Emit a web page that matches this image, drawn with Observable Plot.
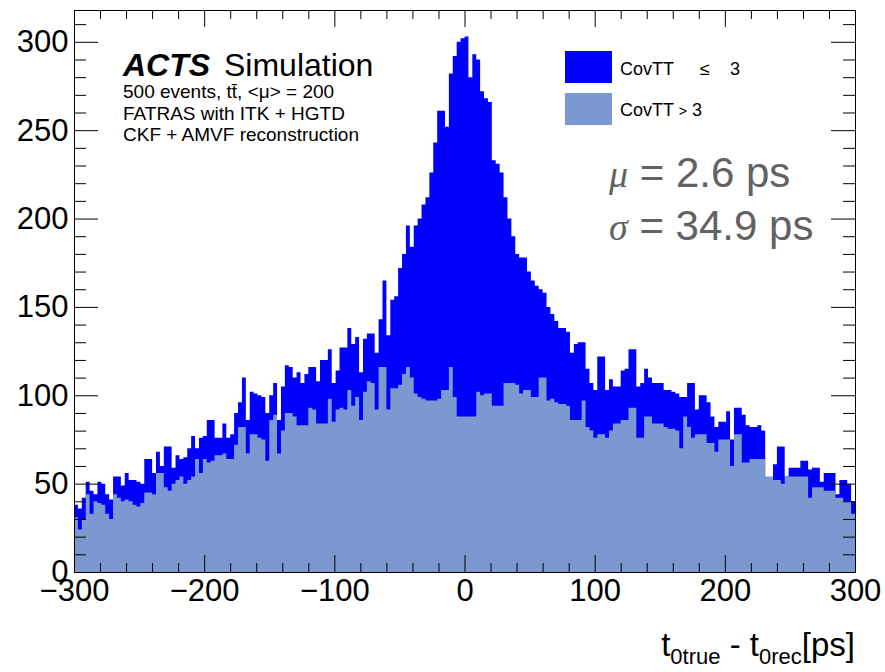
<!DOCTYPE html>
<html>
<head>
<meta charset="utf-8">
<script src="https://cdn.jsdelivr.net/npm/d3@7"></script>
<script src="https://cdn.jsdelivr.net/npm/@observablehq/plot@0.6"></script>
<style>
  html, body { margin: 0; padding: 0; background: white; }
  svg { display: block; }
</style>
</head>
<body>
<div id="chart"></div>
<script>
// ---- Data ----
// 200 bins of 3 ps from -300 to 300
const binEdgeStart = -300;
const binWidth = 3;

// stack top (CovTT <= 3 + CovTT > 3)
const stackTotal = [
  38, 36, 42, 51, 46, 44, 51, 50, 44, 41,
  54, 54, 49, 56, 52, 52, 51, 50, 64, 64,
  56, 68, 60, 71, 71, 59, 66, 64, 65, 70,
  77, 70, 76, 77, 86, 86, 76, 76, 84, 76,
  78, 90, 96, 110, 86, 102, 101, 100, 99, 90,
  100, 107, 86, 105, 117, 116, 110, 113, 107, 112,
  116, 116, 108, 120, 120, 126, 107, 114, 127, 127,
  138, 129, 133, 113, 132, 135, 135, 124, 143, 165,
  134, 154, 156, 172, 180, 196, 184, 196, 200, 208,
  212, 226, 243, 261, 261, 252, 282, 292, 300, 302,
  303, 280, 293, 290, 272, 268, 266, 233, 231, 226,
  212, 200, 190, 180, 178, 178, 170, 165, 162, 160,
  158, 150, 146, 142, 138, 138, 136, 124, 129, 130,
  130, 115, 107, 103, 122, 122, 103, 109, 105, 105,
  114, 115, 126, 126, 105, 107, 115, 110, 107, 107,
  107, 103, 103, 102, 101, 99, 99, 107, 107, 92,
  100, 100, 96, 88, 82, 85, 85, 91, 75, 93,
  93, 89, 83, 82, 82, 83, 80, 52, 52, 61,
  71, 71, 54, 59, 59, 59, 63, 63, 58, 59,
  59, 51, 56, 56, 56, 44, 52, 52, 50, 40
];

// CovTT > 3 (bottom layer)
const covTTgt3 = [
  31, 24, 30, 44, 33, 40, 39, 38, 33, 30,
  44, 42, 40, 41, 40, 38, 37, 39, 45, 45,
  44, 56, 56, 48, 46, 50, 52, 54, 50, 52,
  54, 64, 56, 64, 62, 63, 66, 66, 67, 64,
  64, 72, 82, 82, 67, 78, 78, 76, 75, 63,
  86, 89, 67, 80, 90, 90, 88, 83, 83, 83,
  93, 92, 84, 84, 84, 98, 85, 92, 93, 92,
  103, 94, 99, 86, 102, 108, 107, 92, 116, 116,
  92, 104, 104, 106, 112, 116, 110, 101, 99, 98,
  97, 97, 97, 98, 103, 103, 116, 99, 88, 88,
  88, 88, 88, 102, 100, 101, 101, 94, 94, 94,
  107, 107, 107, 106, 101, 103, 103, 99, 99, 110,
  110, 97, 98, 96, 95, 95, 94, 86, 86, 86,
  97, 82, 80, 76, 78, 78, 76, 80, 84, 84,
  86, 86, 93, 93, 76, 76, 88, 88, 84, 84,
  84, 82, 81, 81, 80, 70, 88, 82, 76, 78,
  78, 78, 73, 73, 68, 75, 75, 75, 60, 78,
  78, 62, 62, 64, 64, 64, 64, 54, 54, 52,
  52, 50, 54, 54, 54, 54, 54, 54, 42, 48,
  48, 48, 46, 46, 46, 42, 42, 40, 40, 33
];

const xMajorTicks = [-300, -200, -100, 0, 100, 200, 300];
const xMinorTicks = d3.range(-300, 301, 20);
const yMajorTicks = [0, 50, 100, 150, 200, 250, 300];
const yMinorTicks = d3.range(0, 311, 10);

const legendLabels = [["CovTT", "\u2264", "3"], ["CovTT", ">", "3"]];
const colors = {le3: "#0000ff", gt3: "#7b98d0"};

// ---- Layout ----
const W = 885, H = 672;
const mL = 74, mR = 30, mT = 10, mB = 100;
const plotW = W - mL - mR, plotH = H - mT - mB;
const font = "'Liberation Sans', Arial, Helvetica, sans-serif";

// rows for step areas (bin left edges + closing edge)
const rows = stackTotal.map((t, i) => ({x: binEdgeStart + i * binWidth, total: t, gt3: covTTgt3[i]}));
rows.push({x: binEdgeStart + stackTotal.length * binWidth, total: stackTotal[stackTotal.length - 1], gt3: covTTgt3[covTTgt3.length - 1]});

const yMinorOnly = yMinorTicks.filter(d => !yMajorTicks.includes(d));
const xMinorOnly = xMinorTicks.filter(d => !xMajorTicks.includes(d));

const chart = Plot.plot({
  width: W, height: H,
  marginLeft: mL, marginRight: mR, marginTop: mT, marginBottom: mB,
  style: {fontFamily: font, background: "white", color: "black"},
  x: {domain: [-300, 300], label: null},
  y: {domain: [0, 318], label: null},
  marks: [
    Plot.areaY(rows, {x: "x", y: "total", curve: "step-after", fill: colors.le3}),
    Plot.areaY(rows, {x: "x", y: "gt3", curve: "step-after", fill: colors.gt3}),
    // y ticks left & right (inward)
    Plot.tickY(yMajorTicks, {y: d => d, insetRight: plotW - 24, stroke: "black"}),
    Plot.tickY(yMinorOnly, {y: d => d, insetRight: plotW - 12, stroke: "black"}),
    Plot.tickY(yMajorTicks, {y: d => d, insetLeft: plotW - 24, stroke: "black"}),
    Plot.tickY(yMinorOnly, {y: d => d, insetLeft: plotW - 12, stroke: "black"}),
    // x ticks bottom & top (inward)
    Plot.tickX(xMajorTicks, {x: d => d, insetTop: plotH - 17, stroke: "black"}),
    Plot.tickX(xMinorOnly, {x: d => d, insetTop: plotH - 9, stroke: "black"}),
    Plot.tickX(xMajorTicks, {x: d => d, insetBottom: plotH - 17, stroke: "black"}),
    Plot.tickX(xMinorOnly, {x: d => d, insetBottom: plotH - 9, stroke: "black"}),
    Plot.frame({stroke: "black", strokeWidth: 1}),
    Plot.axisY(yMajorTicks, {anchor: "left", tickSize: 0, tickPadding: 6, fontSize: 31, tickFormat: d3.format("d"), label: null}),
    Plot.axisX(xMajorTicks, {anchor: "bottom", tickSize: 0, tickPadding: 6, fontSize: 31, tickFormat: d3.format("d"), label: null})
  ]
});
document.getElementById("chart").appendChild(chart);

// ---- Annotations ----
const svg = d3.select(chart);
const g = svg.append("g").attr("font-family", font).attr("fill", "black").attr("text-anchor", "start");

g.append("text").attr("x", 123).attr("y", 76).attr("font-size", 32)
  .attr("font-weight", "bold").attr("font-style", "italic").text("ACTS");
g.append("text").attr("x", 224).attr("y", 76).attr("font-size", 32).text("Simulation");

const info = ["500 events, tt\u0304, <\u03bc> = 200", "FATRAS with ITK + HGTD", "CKF + AMVF reconstruction"];
info.forEach((s, i) => {
  g.append("text").attr("x", 123).attr("y", 98 + i * 21.5).attr("font-size", 19).text(s);
});

// legend
[colors.le3, colors.gt3].forEach((c, i) => {
  g.append("rect").attr("x", 565).attr("y", 51 + i * 42).attr("width", 47).attr("height", 32).attr("fill", c);
});
const t1 = g.append("text").attr("x", 620).attr("y", 75).attr("font-size", 18);
t1.append("tspan").text(legendLabels[0][0]);
t1.append("tspan").attr("x", 700).text(legendLabels[0][1]);
t1.append("tspan").attr("x", 730).text(legendLabels[0][2]);
const t2 = g.append("text").attr("x", 620).attr("y", 116).attr("font-size", 18);
t2.append("tspan").text(legendLabels[1][0] + " ");
t2.append("tspan").attr("font-size", 14).text(legendLabels[1][1]);
t2.append("tspan").text(" " + legendLabels[1][2]);

// mu / sigma
const gray = "#626262";
const stats = [["\u03bc", " = 2.6 ps", 187], ["\u03c3", " = 34.9 ps", 240]];
stats.forEach(([sym, rest, y]) => {
  const t = g.append("text").attr("x", 609).attr("y", y).attr("fill", gray).attr("font-size", 42).style("white-space", "pre");
  t.append("tspan").attr("font-family", "'Liberation Serif', 'Times New Roman', serif").attr("font-style", "italic").attr("font-size", 38).text(sym);
  t.append("tspan").text(rest);
});

// x title
const xt = g.append("text").attr("x", 855).attr("y", 656).attr("font-size", 33).attr("text-anchor", "end").style("white-space", "pre");
xt.append("tspan").text("t");
xt.append("tspan").attr("font-size", 22).attr("dy", 8).text("0true");
xt.append("tspan").attr("dy", -8).text(" - t");
xt.append("tspan").attr("font-size", 22).attr("dy", 8).text("0rec");
xt.append("tspan").attr("dy", -8).text("[ps]");
</script>
</body>
</html>
